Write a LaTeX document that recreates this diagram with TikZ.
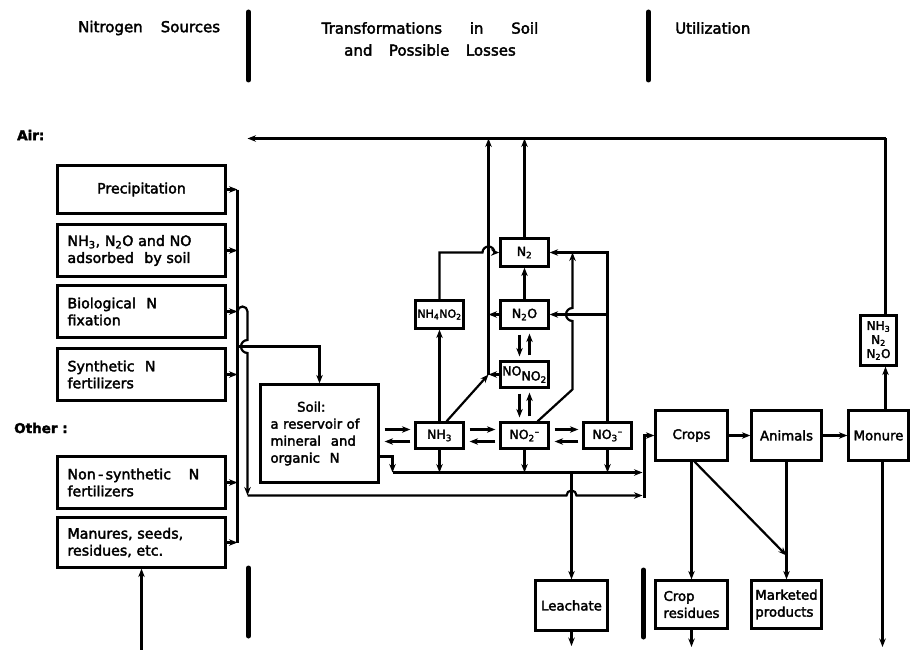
\documentclass[tikz,border=0pt]{standalone}
\usepackage{fontspec}
\setmainfont{DejaVu Sans}[FakeBold=2.5]
\usetikzlibrary{arrows.meta, calc, positioning}
\newcommand{\chsub}[1]{\textsubscript{#1}}
\newcommand{\chion}[1]{\textsubscript{#1}\textsuperscript{--}}

\begin{document}
\begin{tikzpicture}[x=1pt, y=-1pt,
    box/.style={draw, line width=2.2pt, inner sep=2pt, align=center,
                font=\fontsize{13.3}{17}\selectfont},
    srcbox/.style={box, minimum width=168, text width=148, inner xsep=10, align=left,
                   font=\fontsize{14.2}{17}\selectfont},
    chem/.style={box, minimum width=48, minimum height=26, inner sep=1pt,
                 font=\fontsize{12.5}{15}\selectfont},
    head/.style={inner sep=0, align=center, font=\fontsize{15}{22}\selectfont},
    side/.style={inner sep=0, anchor=west, font=\bfseries\fontsize{13.5}{15}\selectfont},
    arr/.style={-{Stealth[length=8.5pt,width=6.5pt]}, line width=2.2pt},
    link/.style={line width=2.2pt},
    bar/.style={line width=5pt, line cap=round}]
    \useasboundingbox (0,0) rectangle (910,650);

    % Column headings
    \node[head, anchor=west] (hsrc) at (78,28) {Nitrogen\hspace{1.2em}Sources};
    \node[head] (htrans) at (430,39) {Transformations\hspace{1.85em}in\hspace{1.85em}Soil\\and\hspace{1.1em}Possible\hspace{1.1em}Losses};
    \node[head, anchor=west] (huse) at (675,28) {Utilization};
    \draw[bar] (248.5,12) -- (248.5,80);
    \draw[bar] (648.5,12) -- (648.5,80);
    \draw[bar] (248.5,568) -- (248.5,636);
    \draw[bar] (643.5,570) -- (643.5,637);

    \node[side] (air) at (17,135) {Air:};
    \node[side] (other) at (14,428) {Other :};

    % Nitrogen sources
    \node[srcbox, minimum height=48, align=center] (prec) at (141.5,189.5) {Precipitation};
    \node[srcbox, minimum height=52] (adsorb) at (141.5,250.5) {NH\chsub{3}, N\chsub{2}O and NO\\adsorbed\hspace{0.4em} by soil};
    \node[srcbox, minimum height=52] (biofix) at (141.5,311.5) {Biological\hspace{0.4em} N\\fixation};
    \node[srcbox, minimum height=52] (synfert) at (141.5,374.5) {Synthetic\hspace{0.4em} N\\fertilizers};
    \node[srcbox, minimum height=52] (nonsyn) at (141.5,482.5) {Non\,-\,synthetic\hspace{0.9em} N\\fertilizers};
    \node[srcbox, minimum height=50] (manure) at (141.5,542.5) {Manures, seeds,\\residues, etc.};

    % Soil and mineral forms
    \node[box, minimum width=118, minimum height=98, text width=98, inner xsep=10, align=left] (soil) at (319.5,433.5)
        {\hspace*{2em}Soil:\\a reservoir of\\mineral\hspace{0.4em} and\\organic\hspace{0.4em} N};
    \node[chem] (nh3) at (439.5,435.5) {NH\chsub{3}};
    \node[chem] (no2) at (524.5,435.5) {NO\chion{2}};
    \node[chem] (no3) at (607.5,435.5) {NO\chion{3}};
    \node[chem] (nono2) at (524.5,374.5) {NO\raisebox{-5pt}{NO\chsub{2}}};
    \node[chem, minimum height=28, font=\fontsize{11}{13}\selectfont] (nh4no2) at (439.5,314.5) {NH\chsub{4}NO\chsub{2}};
    \node[chem, minimum height=28] (n2o) at (524.5,314.5) {N\chsub{2}O};
    \node[chem, minimum height=28] (n2) at (524.5,252.5) {N\chsub{2}};

    % Utilization
    \node[box, minimum width=72, minimum height=50] (crops) at (691.5,435.5) {Crops};
    \node[box, minimum width=70, minimum height=50] (animals) at (786.5,435.5) {Animals};
    \node[box, minimum width=60, minimum height=50] (monure) at (878.5,435.5) {Monure};
    \node[box, minimum width=36, minimum height=50, inner sep=1pt, font=\fontsize{12}{14}\selectfont] (gases) at (878.5,340.5)
        {NH\chsub{3}\\N\chsub{2}\\N\chsub{2}O};
    \node[box, minimum width=72, minimum height=48, align=left] (cropres) at (691.5,604.5) {Crop\\residues};
    \node[box, minimum width=70, minimum height=48, align=left] (market) at (786.5,604.5) {Marketed\\products};
    \node[box, minimum width=72, minimum height=50] (leach) at (571.5,605.5) {Leachate};

    % Junctions and loose ends
    \coordinate (airW) at (247.5,138.5);
    \coordinate (airE) at (885.5,138.5);
    \coordinate (busT) at (237.5,189.5);
    \coordinate (busB) at (237.5,542.5);
    \coordinate (fixT) at (247.5,311.5);
    \coordinate (fixB) at (247.5,495.5);
    \coordinate (soilin) at (319.5,346.5);
    \coordinate (poolW) at (392.5,472.5);
    \coordinate (poolE) at (642.5,472.5);
    \coordinate (cropj) at (644.5,495.5);
    \coordinate (leachj) at (571.5,472.5);
    \coordinate (lossj) at (488.5,374.5);
    \coordinate (nitj) at (572.5,252.5);
    \coordinate (mktj) at (786.5,555.5);
    \coordinate (manin) at (141.5,650);
    \coordinate (leachout) at (571.5,646);
    \coordinate (resout) at (691.5,647);
    \coordinate (monout) at (882.5,647);

    % Sources into the soil
    \foreach \src in {prec, adsorb, biofix, synfert, nonsyn, manure}
        \draw[arr] (\src.east) -- (\src.east -| busT);
    \draw[link] (busT) -- (busB);
    \draw[arr] (manin) -- (manure.south);
    \draw[arr] (busT |- soilin) -- (soilin) -- (soil.north);
    \draw[arr] ($(fixT)+(-10,0)$) arc[start angle=180, end angle=360, radius=5]
        -- ($(fixT |- soilin)+(0,-6.5)$) arc[start angle=270, end angle=90, radius=6.5] -- (fixB);
    \draw[arr] (fixB) -- ($(leachj |- fixB)+(-5,0)$) arc[start angle=180, end angle=360, radius=5] -- ($(cropj)+(-2,0)$);

    % Mineral pools
    \foreach \a/\b in {soil/nh3, nh3/no2, no2/no3} {
        \draw[arr] ($(\a.east |- \b.west)+(5,-6)$) -- ($(\b.west)+(-4,-6)$);
        \draw[arr] ($(\b.west)+(-4,6)$) -- ($(\a.east |- \b.west)+(5,6)$);
    }
    \draw[arr] ($(soil.east)+(0,23)$) -| (poolW);
    \foreach \n in {nh3, no2, no3}
        \draw[arr] (\n.south) -- (\n.south |- poolW);
    \draw[arr] (poolW) -- (poolE);
    \draw[arr] ($(cropj)+(0,2)$) |- (crops.west);
    \draw[arr] (leachj) -- (leach.north);
    \draw[arr] (leach.south) -- (leachout);

    % Gaseous losses
    \draw[arr] (nh3.north) -- (nh4no2.south);
    \draw[arr] (nh4no2.north) |- ($(lossj |- n2.west)+(-6,0)$) arc[start angle=180, end angle=360, radius=6] -- (n2.west);
    \draw[arr] ($(nh3.north)+(7,0)$) -- (lossj);
    \draw[arr] (nono2.west) -- (lossj);
    \draw[arr] (n2o.west) -- (n2o.west -| lossj);
    \draw[arr] (lossj) -- (lossj |- airW);
    \draw[arr] (n2o.north) -- (n2.south);
    \draw[arr] (n2.north) -- (n2.north |- airW);
    \foreach \u/\d in {n2o/nono2, nono2/no2} {
        \draw[arr] ($(\u.south)+(-5,5)$) -- ($(\d.north)+(-5,-4)$);
        \draw[arr] ($(\d.north)+(5,-5)$) -- ($(\u.south)+(5,4)$);
    }
    \draw[arr] ($(no2.north)+(13,0)$) -- ($(nitj |- no2.north)+(0,-32)$)
        -- ($(nitj |- n2o.east)+(0,6.5)$) arc[start angle=90, end angle=270, radius=6.5] -- (nitj);
    \draw[arr] (no3.north) |- (n2.east);
    \draw[arr] (no3.north |- n2o.east) -- (n2o.east);

    % Air
    \draw[arr] (airE) -- (airW);
    \draw[link] (gases.north -| airE) -- (airE);
    \draw[arr] (monure.north -| airE) -- (gases.south -| airE);

    % Crops, animals and products
    \draw[arr] (crops) -- (animals);
    \draw[arr] (animals) -- (monure);
    \draw[arr] (crops.south) -- (cropres.north);
    \draw[arr] (cropres.south) -- (resout);
    \draw[arr] ($(crops.south)+(3,0)$) -- (mktj);
    \draw[arr] (animals.south) -- (market.north);
    \draw[arr] (monure.south -| monout) -- (monout);
\end{tikzpicture}
\end{document}
